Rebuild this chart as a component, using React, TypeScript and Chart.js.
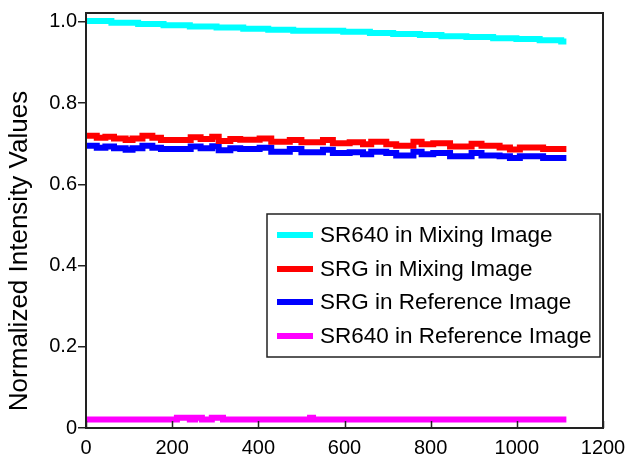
import React, { useEffect, useRef } from "react";
import { Chart, registerables } from "chart.js";

Chart.register(...registerables);

const xTickValues = [0, 200, 400, 600, 800, 1000, 1200];
const yTickValues = [0, 0.2, 0.4, 0.6, 0.8, 1.0];
const yTitle = "Normalized Intensity Values";

const seriesNames = [
  "SR640 in Mixing Image",
  "SRG in Mixing Image",
  "SRG in Reference Image",
  "SR640 in Reference Image",
];
const seriesColors = ["#00FFFF", "#FF0000", "#0000FF", "#FF00FF"];

// SR640 in Mixing Image (step starts)
const cyanX = [0, 59, 121, 180, 241, 303, 365, 423, 481, 597, 659, 713, 775, 825, 883, 945, 999, 1053, 1103, 1115];
const cyanY = [1.002, 0.998, 0.995, 0.992, 0.989, 0.986, 0.983, 0.981, 0.978, 0.976, 0.973, 0.970, 0.968, 0.965, 0.963, 0.960, 0.958, 0.955, 0.952, 0.952];

// SRG in Mixing / Reference Image (shared step starts)
const srgX = [0, 25, 45, 65, 92, 108, 131, 154, 174, 243, 266, 293, 308, 335, 358, 403, 430, 473, 500, 550, 573, 612, 643, 662, 697, 720, 760, 779, 806, 845, 895, 918, 960, 984, 1007, 1061, 1115];
const redY = [0.7195, 0.715, 0.717, 0.713, 0.709, 0.713, 0.7195, 0.715, 0.709, 0.716, 0.712, 0.717, 0.707, 0.712, 0.710, 0.713, 0.705, 0.709, 0.704, 0.709, 0.701, 0.704, 0.699, 0.705, 0.699, 0.695, 0.705, 0.699, 0.701, 0.693, 0.700, 0.695, 0.691, 0.686, 0.691, 0.687, 0.687];
const blueY = [0.695, 0.690, 0.693, 0.689, 0.685, 0.689, 0.695, 0.690, 0.687, 0.693, 0.689, 0.694, 0.684, 0.689, 0.687, 0.690, 0.680, 0.687, 0.679, 0.685, 0.677, 0.679, 0.674, 0.680, 0.677, 0.671, 0.680, 0.674, 0.677, 0.669, 0.677, 0.671, 0.669, 0.665, 0.669, 0.665, 0.665];

// SR640 in Reference Image
const magX = [0, 211, 241, 253, 269, 292, 318, 520, 527, 1115];
const magY = [0.021, 0.025, 0.021, 0.025, 0.021, 0.025, 0.021, 0.025, 0.021, 0.021];

const FONT = "Arial, 'Liberation Sans', sans-serif";
const AXIS_COLOR = "#222222";

const toPoints = (xs: number[], ys: number[]) => xs.map((x, i) => ({ x, y: ys[i] }));

export default function App() {
  const ref = useRef<HTMLCanvasElement>(null);

  useEffect(() => {
    document.body.style.margin = "0";
    const canvas = ref.current;
    if (!canvas) return;

    const series = [
      toPoints(cyanX, cyanY),
      toPoints(srgX, redY),
      toPoints(srgX, blueY),
      toPoints(magX, magY),
    ];

    const decor = {
      id: "decor",
      afterDraw(chart: any) {
        const { ctx, chartArea } = chart;
        const { left, right, top, bottom } = chartArea;
        const xs = chart.scales.x;
        ctx.save();
        // frame
        ctx.strokeStyle = AXIS_COLOR;
        ctx.lineWidth = 2;
        ctx.strokeRect(left, top, right - left, bottom - top);
        // inward x ticks
        ctx.lineWidth = 1.5;
        ctx.beginPath();
        xTickValues.forEach((v) => {
          const px = Math.round(xs.getPixelForValue(v)) + 0.5;
          ctx.moveTo(px, bottom);
          ctx.lineTo(px, bottom - 7);
        });
        ctx.stroke();
        // y title
        ctx.fillStyle = "#000";
        ctx.translate(20, 251);
        ctx.rotate(-Math.PI / 2);
        ctx.font = `26px ${FONT}`;
        ctx.textAlign = "center";
        ctx.textBaseline = "middle";
        ctx.fillText(yTitle, 0, 0);
        ctx.restore();

        // legend
        ctx.save();
        const bx = 267, by = 214, bw = 333, bh = 143;
        ctx.fillStyle = "#fff";
        ctx.fillRect(bx, by, bw, bh);
        ctx.strokeStyle = AXIS_COLOR;
        ctx.lineWidth = 1.5;
        ctx.strokeRect(bx, by, bw, bh);
        const rows = [235, 269, 302, 336];
        ctx.font = `22.5px ${FONT}`;
        ctx.textBaseline = "middle";
        ctx.textAlign = "left";
        seriesNames.forEach((name, i) => {
          ctx.strokeStyle = seriesColors[i];
          ctx.lineWidth = 6;
          ctx.beginPath();
          ctx.moveTo(277, rows[i]);
          ctx.lineTo(313, rows[i]);
          ctx.stroke();
          ctx.fillStyle = "#000";
          ctx.fillText(name, 320, rows[i] + 1);
        });
        ctx.restore();
      },
    };

    const chart = new Chart(canvas, {
      type: "line",
      data: {
        datasets: series.map((pts, i) => ({
          label: seriesNames[i],
          data: pts,
          borderColor: seriesColors[i],
          backgroundColor: seriesColors[i],
          borderWidth: 6,
          pointRadius: 0,
          stepped: "before" as const,
          fill: false,
          borderCapStyle: "butt" as const,
          borderJoinStyle: "miter" as const,
        })),
      },
      options: {
        responsive: false,
        animation: false,
        events: [],
        layout: { padding: { left: 0, top: 9, right: 34, bottom: 0 } },
        plugins: {
          legend: { display: false },
          tooltip: { enabled: false },
          title: { display: false },
        },
        scales: {
          x: {
            type: "linear",
            min: 0,
            max: 1200,
            afterBuildTicks: (s: any) => {
              s.ticks = xTickValues.map((v) => ({ value: v }));
            },
            afterFit: (s: any) => {
              s.height = 28;
            },
            grid: { display: false },
            border: { display: false },
            ticks: {
              color: "#000",
              font: { family: FONT, size: 20 },
              padding: 0,
              maxRotation: 0,
              autoSkip: false,
              callback: (v: any) => String(v),
            },
          },
          y: {
            type: "linear",
            min: 0,
            max: 1.022,
            afterBuildTicks: (s: any) => {
              s.ticks = yTickValues.map((v) => ({ value: v }));
            },
            afterFit: (s: any) => {
              s.width = 86;
            },
            grid: {
              drawOnChartArea: false,
              drawTicks: true,
              tickLength: 8,
              color: AXIS_COLOR,
              lineWidth: 1.5,
            },
            border: { display: false },
            ticks: {
              color: "#000",
              font: { family: FONT, size: 20 },
              padding: 1,
              autoSkip: false,
              callback: (v: any) => (v === 0 ? "0" : Number(v).toFixed(1)),
            },
          },
        },
      },
      plugins: [decor],
    });

    return () => chart.destroy();
  }, []);

  return <canvas ref={ref} width={637} height={456} style={{ display: "block" }} />;
}
